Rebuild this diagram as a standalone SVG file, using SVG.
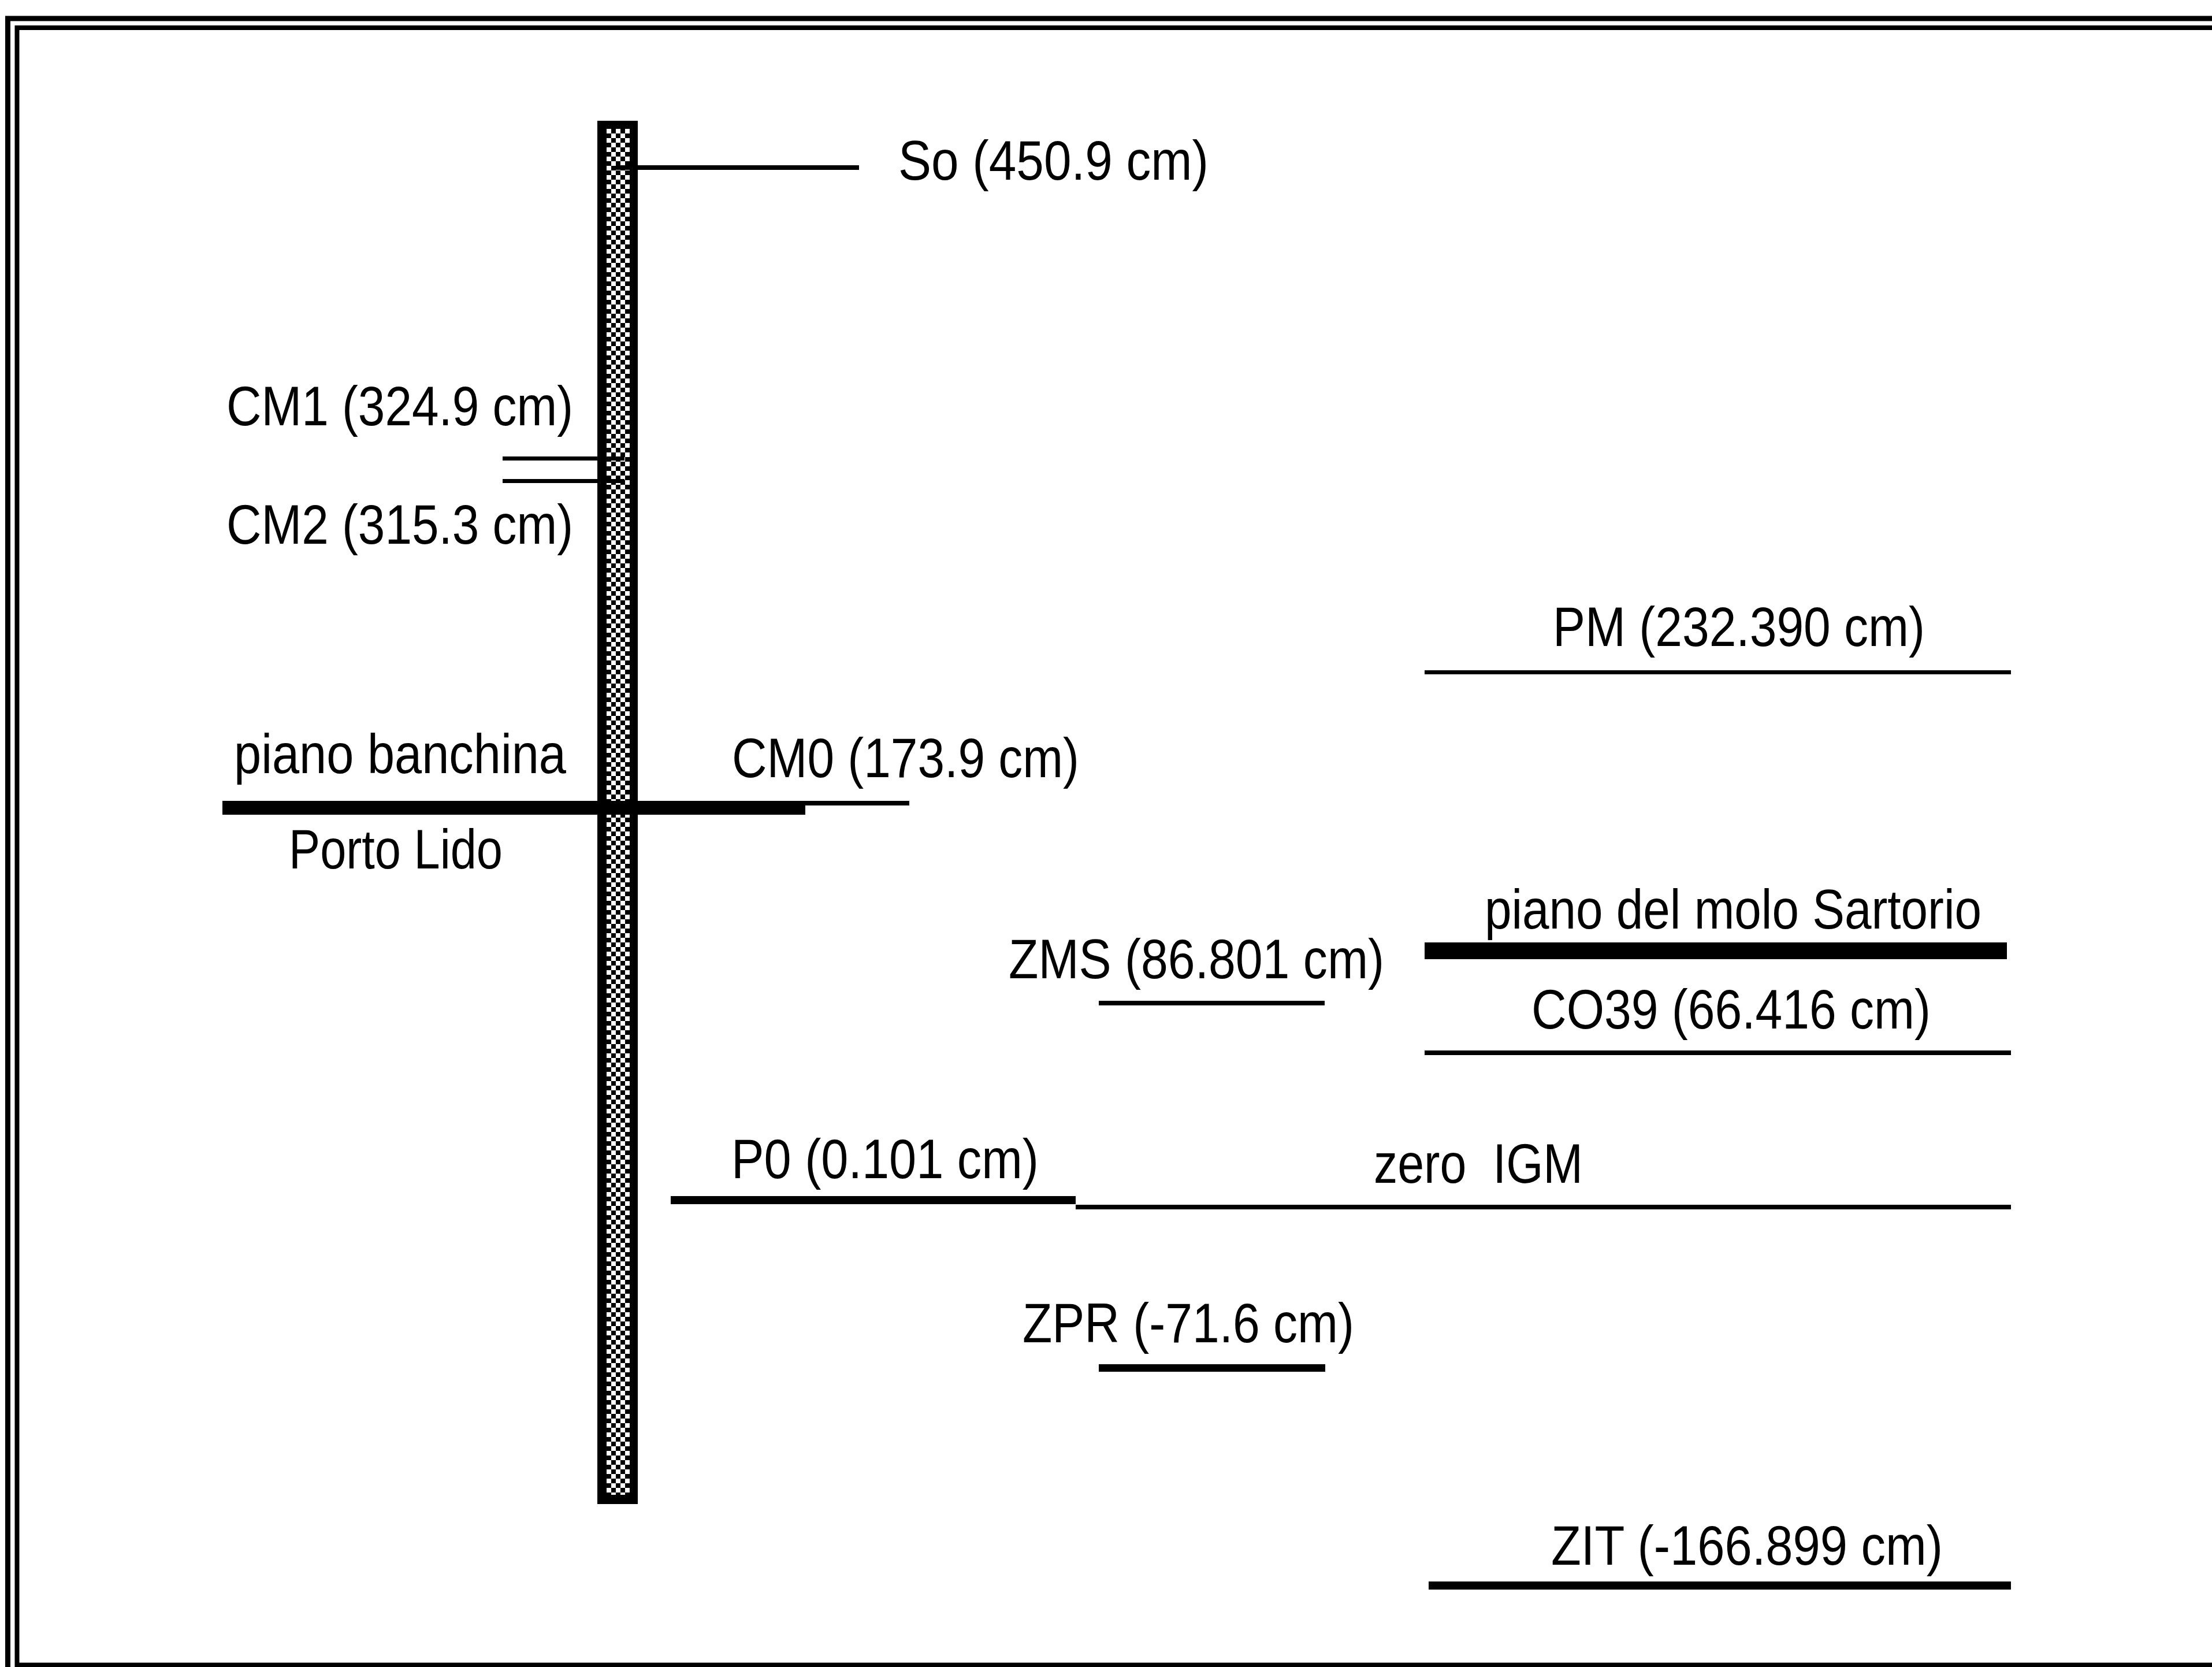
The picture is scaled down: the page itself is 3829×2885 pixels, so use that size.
<svg xmlns="http://www.w3.org/2000/svg" width="3829" height="2885" viewBox="0 0 3829 2885">
<defs>
<pattern id="chk" patternUnits="userSpaceOnUse" x="1050" y="223" width="16" height="16">
<rect width="16" height="16" fill="#000"/>
<rect x="0" y="0" width="8" height="8" fill="#fff"/>
<rect x="8" y="8" width="8" height="8" fill="#fff"/>
</pattern>
</defs>
<style>
text{font-family:"Liberation Sans",Arial,sans-serif;font-size:96px;fill:#000;white-space:pre}
.lv{fill:#000}
</style>
<rect width="3829" height="2885" fill="#fff"/>
<g id="frame" fill="none" stroke="#000">
<path d="M13.5 2885 V32 H3829" stroke-width="9"/>
<path d="M3829 48 H29.5 V2881.5 H3829" stroke-width="8"/>
</g>
<g id="pillar">
<rect x="1034" y="209" width="70" height="2394" fill="#000"/>
<rect x="1050" y="223" width="40" height="2364" fill="url(#chk)"/>
</g>
<g id="connectors">
<rect class="lv" x="1066" y="286" width="421" height="8"/>
<rect class="lv" x="870" y="790" width="211" height="7"/>
<rect class="lv" x="870" y="829" width="211" height="7"/>
</g>
<g id="So"><text x="1555" y="311" textLength="537" lengthAdjust="spacingAndGlyphs">So (450.9 cm)</text></g>
<g id="CM1"><text x="392" y="736" textLength="600" lengthAdjust="spacingAndGlyphs">CM1 (324.9 cm)</text></g>
<g id="CM2"><text x="392" y="941" textLength="600" lengthAdjust="spacingAndGlyphs">CM2 (315.3 cm)</text></g>
<g id="piano-banchina">
<rect class="lv" x="385" y="1386" width="1009" height="24"/>
<text x="405" y="1338" textLength="575" lengthAdjust="spacingAndGlyphs">piano banchina</text>
<text x="500" y="1503" textLength="370" lengthAdjust="spacingAndGlyphs">Porto Lido</text>
</g>
<g id="CM0">
<rect class="lv" x="1394" y="1386" width="180" height="8"/>
<text x="1267" y="1345" textLength="601" lengthAdjust="spacingAndGlyphs">CM0 (173.9 cm)</text>
</g>
<g id="PM">
<rect class="lv" x="2466" y="1160" width="1015" height="7"/>
<text x="2688" y="1118" textLength="644" lengthAdjust="spacingAndGlyphs">PM (232.390 cm)</text>
</g>
<g id="molo-Sartorio">
<rect class="lv" x="2466" y="1631" width="1008" height="29"/>
<text x="2570" y="1607" textLength="860" lengthAdjust="spacingAndGlyphs">piano del molo Sartorio</text>
</g>
<g id="ZMS">
<rect class="lv" x="1902" y="1732" width="391" height="8"/>
<text x="1746" y="1693" textLength="650" lengthAdjust="spacingAndGlyphs">ZMS (86.801 cm)</text>
</g>
<g id="CO39">
<rect class="lv" x="2466" y="1818" width="1015" height="8"/>
<text x="2651" y="1780" textLength="691" lengthAdjust="spacingAndGlyphs">CO39 (66.416 cm)</text>
</g>
<g id="P0">
<rect class="lv" x="1161" y="2070" width="701" height="14"/>
<text x="1266" y="2039" textLength="532" lengthAdjust="spacingAndGlyphs">P0 (0.101 cm)</text>
</g>
<g id="zero-IGM">
<rect class="lv" x="1862" y="2085" width="1619" height="8"/>
<text x="2378" y="2047" textLength="362" lengthAdjust="spacingAndGlyphs">zero  IGM</text>
</g>
<g id="ZPR">
<rect class="lv" x="1902" y="2361" width="392" height="13"/>
<text x="1770" y="2323" textLength="574" lengthAdjust="spacingAndGlyphs">ZPR (-71.6 cm)</text>
</g>
<g id="ZIT">
<rect class="lv" x="2473" y="2737" width="1008" height="14"/>
<text x="2685" y="2708" textLength="678" lengthAdjust="spacingAndGlyphs">ZIT (-166.899 cm)</text>
</g>
</svg>
